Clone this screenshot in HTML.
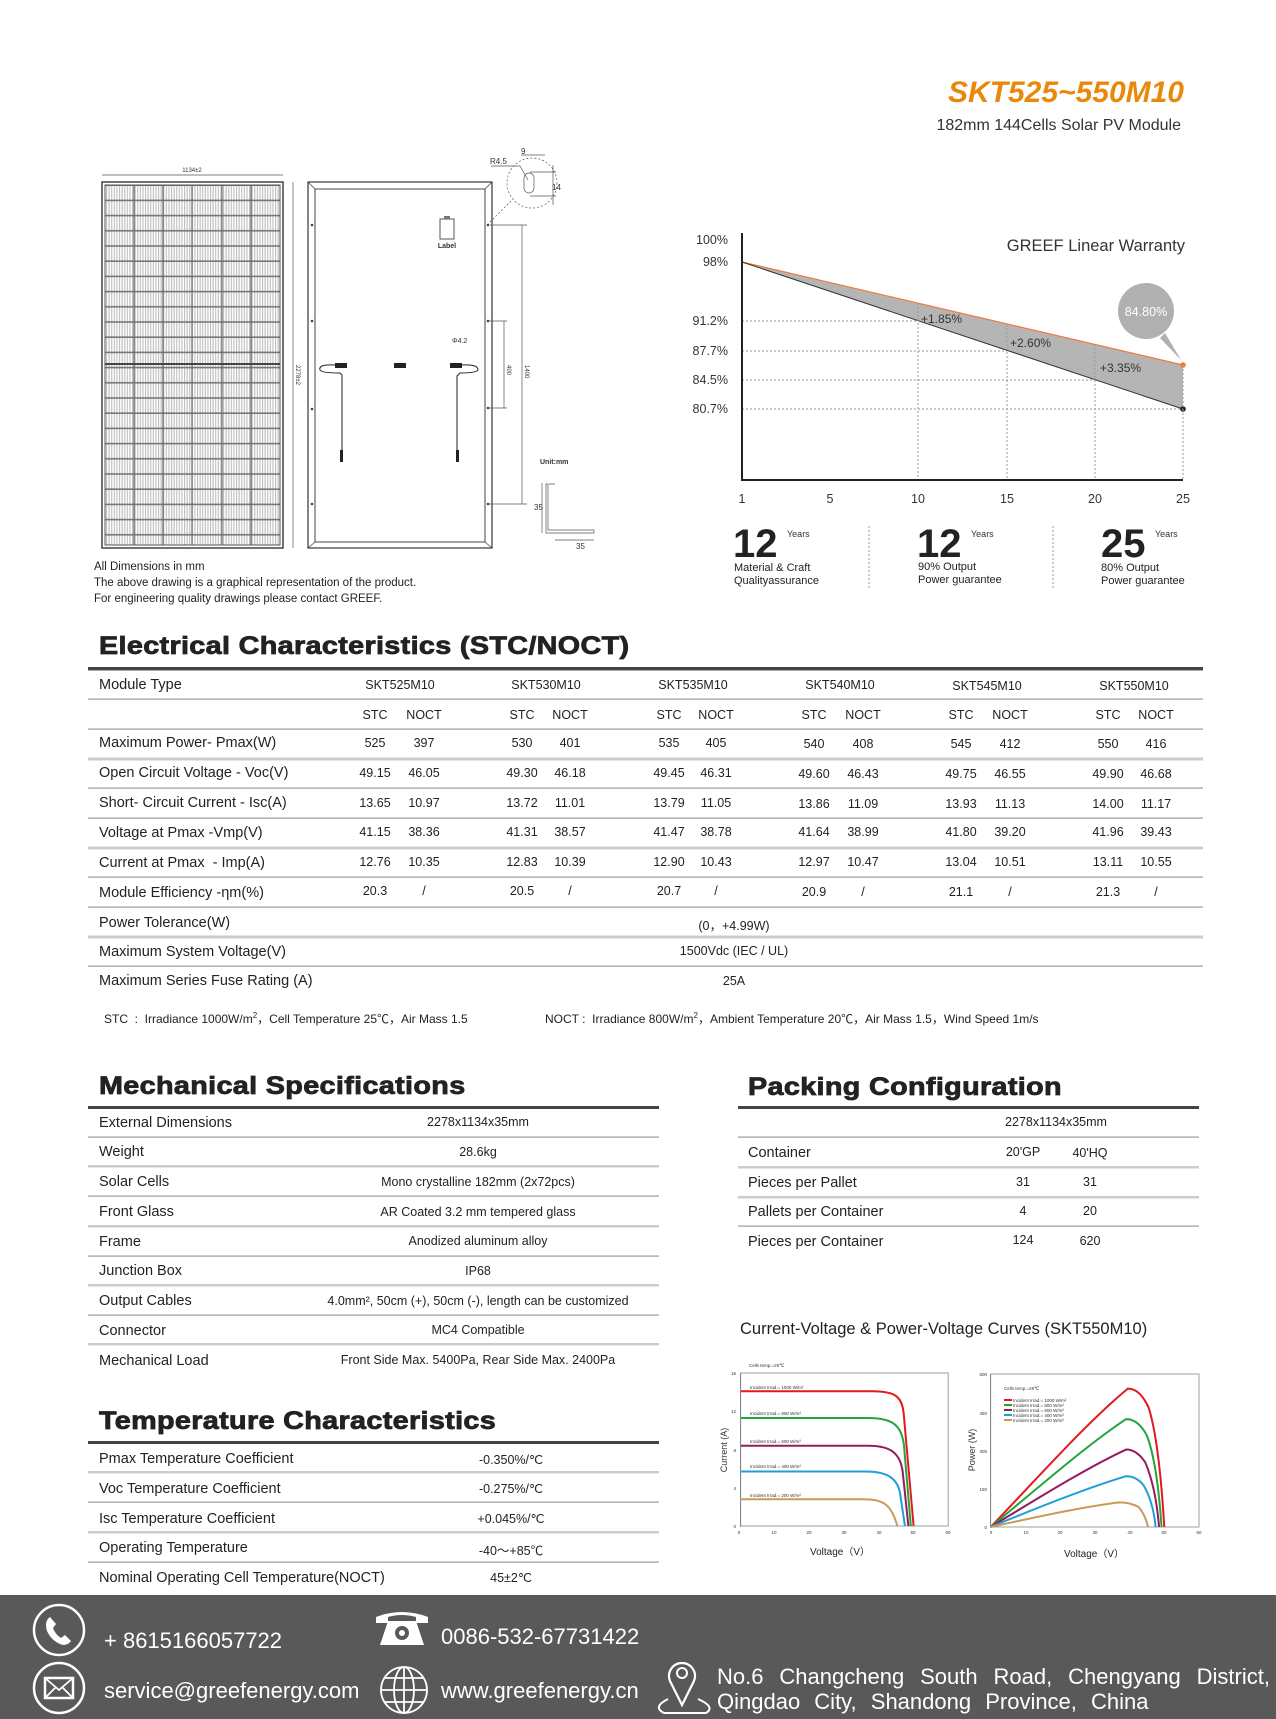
<!DOCTYPE html>
<html><head><meta charset="utf-8"><style>
*{margin:0;padding:0;box-sizing:border-box}
body{width:1276px;height:1719px;background:#fff;position:relative;overflow:hidden;font-family:"Liberation Sans",Arial,sans-serif;color:#222}
.a{position:absolute;white-space:nowrap}
.h{font-weight:bold;font-size:25px;color:#222;-webkit-text-stroke:0.8px #222;letter-spacing:0.3px;transform:scaleX(1.15);transform-origin:left center}
.l{font-size:14.5px;color:#222}
.v{font-size:12.5px;color:#222;transform:translateX(-50%)}
.f{color:#fff;font-size:22px}
</style></head><body>

<div class="a" style="right:92px;top:76px;font-size:30px;font-weight:bold;font-style:italic;color:#e8890c">SKT525~550M10</div>
<div class="a" style="right:95px;top:117px;font-size:16px;color:#333">182mm 144Cells Solar PV Module</div>

<svg class="a" style="left:0;top:0" width="1276" height="620">
<defs>
<pattern id="cell" x="106" y="186" width="2.6" height="15.2" patternUnits="userSpaceOnUse">
<rect width="2.6" height="15.2" fill="#fff"/><rect x="0" width="1.1" height="15.2" fill="#bdbdbd"/><rect y="13.6" width="2.6" height="1.6" fill="#777"/>
</pattern>
</defs>
<line x1="102" y1="175" x2="283" y2="175" stroke="#555" stroke-width="0.7"/>
<text x="192" y="172" font-size="6" text-anchor="middle" fill="#333">1134±2</text>
<rect x="102" y="182" width="181" height="366" fill="none" stroke="#444" stroke-width="1.5"/>
<rect x="105" y="185" width="175" height="360" fill="url(#cell)" stroke="#555"/>
<g stroke="#666" stroke-width="1.2">
<line x1="134" y1="185" x2="134" y2="545"/><line x1="163" y1="185" x2="163" y2="545"/><line x1="192" y1="185" x2="192" y2="545"/><line x1="222" y1="185" x2="222" y2="545"/><line x1="251" y1="185" x2="251" y2="545"/>
</g>
<line x1="105" y1="364" x2="280" y2="364" stroke="#444" stroke-width="2"/>
<line x1="293" y1="182" x2="293" y2="548" stroke="#555" stroke-width="0.7"/>
<text x="296" y="365" font-size="6" fill="#333" transform="rotate(90 296 365)">2278±2</text>
<rect x="308" y="182" width="184" height="366" fill="none" stroke="#444" stroke-width="1.3"/>
<rect x="315" y="189" width="170" height="353" fill="none" stroke="#444" stroke-width="1"/>
<g stroke="#444" stroke-width="0.8"><line x1="308" y1="182" x2="315" y2="189"/><line x1="492" y1="182" x2="485" y2="189"/><line x1="308" y1="548" x2="315" y2="542"/><line x1="492" y1="548" x2="485" y2="542"/></g>
<rect x="440" y="219" width="14" height="20" fill="none" stroke="#555"/><rect x="444" y="216" width="6" height="3" fill="#777"/>
<text x="447" y="248" font-size="7" font-weight="bold" text-anchor="middle" fill="#333">Label</text>
<g fill="#444"><circle cx="312" cy="225" r="1.3"/><circle cx="312" cy="321" r="1.3"/><circle cx="312" cy="409" r="1.3"/><circle cx="312" cy="504" r="1.3"/><circle cx="488" cy="225" r="1.3"/><circle cx="488" cy="321" r="1.3"/><circle cx="488" cy="408" r="1.3"/><circle cx="488" cy="504" r="1.3"/></g>
<rect x="335" y="363" width="12" height="5" fill="#222"/><rect x="394" y="363" width="12" height="5" fill="#222"/><rect x="450" y="363" width="12" height="5" fill="#222"/>
<path d="M335 365 Q318 364 320 370 Q322 373 340 373 L342 375 L342 460" fill="none" stroke="#222" stroke-width="1"/>
<path d="M462 365 Q478 364 478 370 Q476 373 460 373 L457 376 L457 460" fill="none" stroke="#222" stroke-width="1"/>
<rect x="340" y="450" width="3" height="12" fill="#222"/><rect x="456" y="450" width="3" height="12" fill="#222"/>
<g stroke="#555" stroke-width="0.7" fill="none">
<line x1="488" y1="321" x2="507" y2="321"/><line x1="488" y1="408" x2="507" y2="408"/><line x1="504" y1="321" x2="504" y2="408"/>
<line x1="490" y1="225" x2="527" y2="225"/><line x1="488" y1="504" x2="527" y2="504"/><line x1="522" y1="225" x2="522" y2="504"/>
<circle cx="532" cy="183" r="25" stroke-dasharray="2 2"/><line x1="487" y1="225" x2="512" y2="200" stroke-dasharray="2 2"/>
<rect x="524" y="173" width="10" height="20" rx="5"/><line x1="491" y1="166" x2="520" y2="166"/><line x1="520" y1="166" x2="528" y2="180"/>
<line x1="521" y1="155" x2="545" y2="155"/><line x1="530" y1="172" x2="556" y2="172"/><line x1="530" y1="196" x2="556" y2="196"/>
<line x1="553" y1="165" x2="553" y2="205"/>
<path d="M548 484 L548 530 L594 530 L594 533 L546 533 L546 484 Z M549 484 L555 484"/>
<line x1="542" y1="483" x2="542" y2="533"/><line x1="555" y1="540" x2="594" y2="540"/>
</g>
<text x="521" y="154" font-size="8" fill="#333">9</text>
<text x="490" y="164" font-size="8" fill="#333">R4.5</text>
<text x="552" y="190" font-size="8" fill="#333">14</text>
<text x="452" y="343" font-size="7" fill="#333">Φ4.2</text>
<text x="507" y="365" font-size="6" fill="#333" transform="rotate(90 507 365)">400</text>
<text x="525" y="365" font-size="6" fill="#333" transform="rotate(90 525 365)">1400</text>
<text x="540" y="464" font-size="7" font-weight="bold" fill="#333">Unit:mm</text>
<text x="534" y="510" font-size="8" fill="#333">35</text>
<text x="576" y="549" font-size="8" fill="#333">35</text>

<polygon points="742,262 1183,365 1183,409" fill="#b5b5b5"/>
<line x1="742" y1="262" x2="1183" y2="365" stroke="#f07a3a" stroke-width="1.2"/>
<line x1="742" y1="262" x2="1183" y2="409" stroke="#333" stroke-width="1"/>
<circle cx="1183" cy="365" r="2.8" fill="#f07a3a"/><circle cx="1183" cy="409" r="2.8" fill="#222"/>
<g stroke="#999" stroke-width="1" stroke-dasharray="2 2">
<line x1="742" y1="321" x2="918" y2="321"/><line x1="742" y1="351" x2="1007" y2="351"/><line x1="742" y1="380" x2="1095" y2="380"/><line x1="742" y1="409" x2="1183" y2="409"/>
<line x1="918" y1="303" x2="918" y2="480"/><line x1="1007" y1="324" x2="1007" y2="480"/><line x1="1095" y1="344" x2="1095" y2="480"/><line x1="1183" y1="365" x2="1183" y2="480"/>
</g>
<polyline points="742,233 742,480 1183,480" fill="none" stroke="#222" stroke-width="2"/>
<g font-size="12.5" fill="#333" text-anchor="end">
<text x="728" y="244">100%</text><text x="728" y="266">98%</text><text x="728" y="325">91.2%</text><text x="728" y="355">87.7%</text><text x="728" y="384">84.5%</text><text x="728" y="413">80.7%</text>
</g>
<g font-size="12.5" fill="#333" text-anchor="middle">
<text x="742" y="503">1</text><text x="830" y="503">5</text><text x="918" y="503">10</text><text x="1007" y="503">15</text><text x="1095" y="503">20</text><text x="1183" y="503">25</text>
</g>
<g font-size="12" fill="#333"><text x="921" y="323">+1.85%</text><text x="1010" y="347">+2.60%</text><text x="1100" y="372">+3.35%</text></g>
<text x="1185" y="251" font-size="16.5" fill="#333" text-anchor="end">GREEF Linear Warranty</text>
<path d="M1165 333 L1181 360 L1160 338 Z" fill="#b0b0b0"/>
<ellipse cx="1146" cy="311" rx="28" ry="28" fill="#b0b0b0"/>
<text x="1146" y="316" font-size="12.5" fill="#fff" text-anchor="middle">84.80%</text>
<g stroke="#999" stroke-dasharray="2 2"><line x1="869" y1="526" x2="869" y2="588"/><line x1="1053" y1="526" x2="1053" y2="588"/></g>
<g fill="#222" font-weight="bold" font-size="40" style="-webkit-text-stroke:1.2px #222"><text x="733" y="557">12</text><text x="917" y="557">12</text><text x="1101" y="557">25</text></g>
<g fill="#333" font-size="9"><text x="787" y="537">Years</text><text x="971" y="537">Years</text><text x="1155" y="537">Years</text></g>
<g fill="#222" font-size="11"><text x="734" y="571">Material &amp; Craft</text><text x="734" y="584">Qualityassurance</text><text x="918" y="570">90% Output</text><text x="918" y="583">Power guarantee</text><text x="1101" y="571">80% Output</text><text x="1101" y="584">Power guarantee</text></g>
<g fill="#222" font-size="11.5"><text x="94" y="570">All Dimensions in mm</text><text x="94" y="586">The above drawing is a graphical representation of the product.</text><text x="94" y="602">For engineering quality drawings please contact GREEF.</text></g>
</svg>

<div class="a h" style="left:99px;top:632px">Electrical Characteristics (STC/NOCT)</div>
<svg class="a" style="left:0;top:660px" width="1276" height="320">
<rect x="88" y="7" width="1115" height="3" fill="#444"/><rect x="88" y="10" width="1115" height="1" fill="#aaa"/>
<g fill="#999"><rect x="88" y="38.5" width="1115" height="1.2"/><rect x="88" y="68.5" width="1115" height="1.2"/><rect x="88" y="127.5" width="1115" height="1.2"/><rect x="88" y="157.5" width="1115" height="1.2"/><rect x="88" y="216.5" width="1115" height="1.2"/><rect x="88" y="246.5" width="1115" height="1.2"/><rect x="88" y="305.5" width="1115" height="1.2"/></g>
<g fill="#ccc"><rect x="88" y="97.5" width="1115" height="3"/><rect x="88" y="186.5" width="1115" height="3"/><rect x="88" y="275.5" width="1115" height="3"/></g>
</svg>
<div class="a l" style="left:99px;top:677px">Module Type</div>
<div class="a l" style="left:99px;top:735px">Maximum Power- Pmax(W)</div>
<div class="a l" style="left:99px;top:765px">Open Circuit Voltage - Voc(V)</div>
<div class="a l" style="left:99px;top:795px">Short- Circuit Current - Isc(A)</div>
<div class="a l" style="left:99px;top:825px">Voltage at Pmax -Vmp(V)</div>
<div class="a l" style="left:99px;top:855px">Current at Pmax &nbsp;- Imp(A)</div>
<div class="a l" style="left:99px;top:885px">Module Efficiency -ηm(%)</div>
<div class="a l" style="left:99px;top:915px">Power Tolerance(W)</div>
<div class="a l" style="left:99px;top:944px">Maximum System Voltage(V)</div>
<div class="a l" style="left:99px;top:973px">Maximum Series Fuse Rating (A)</div>

<div class="a v" style="left:400px;top:678px">SKT525M10</div><div class="a v" style="left:546px;top:678px">SKT530M10</div><div class="a v" style="left:693px;top:678px">SKT535M10</div><div class="a v" style="left:840px;top:678px">SKT540M10</div><div class="a v" style="left:987px;top:679px">SKT545M10</div><div class="a v" style="left:1134px;top:679px">SKT550M10</div>

<div class="a v" style="left:375px;top:708px">STC</div><div class="a v" style="left:424px;top:708px">NOCT</div>
<div class="a v" style="left:522px;top:708px">STC</div><div class="a v" style="left:570px;top:708px">NOCT</div>
<div class="a v" style="left:669px;top:708px">STC</div><div class="a v" style="left:716px;top:708px">NOCT</div>
<div class="a v" style="left:814px;top:708px">STC</div><div class="a v" style="left:863px;top:708px">NOCT</div>
<div class="a v" style="left:961px;top:708px">STC</div><div class="a v" style="left:1010px;top:708px">NOCT</div>
<div class="a v" style="left:1108px;top:708px">STC</div><div class="a v" style="left:1156px;top:708px">NOCT</div>

<div class="a v" style="left:375px;top:736px">525</div><div class="a v" style="left:424px;top:736px">397</div>
<div class="a v" style="left:522px;top:736px">530</div><div class="a v" style="left:570px;top:736px">401</div>
<div class="a v" style="left:669px;top:736px">535</div><div class="a v" style="left:716px;top:736px">405</div>
<div class="a v" style="left:814px;top:737px">540</div><div class="a v" style="left:863px;top:737px">408</div>
<div class="a v" style="left:961px;top:737px">545</div><div class="a v" style="left:1010px;top:737px">412</div>
<div class="a v" style="left:1108px;top:737px">550</div><div class="a v" style="left:1156px;top:737px">416</div>

<div class="a v" style="left:375px;top:766px">49.15</div><div class="a v" style="left:424px;top:766px">46.05</div>
<div class="a v" style="left:522px;top:766px">49.30</div><div class="a v" style="left:570px;top:766px">46.18</div>
<div class="a v" style="left:669px;top:766px">49.45</div><div class="a v" style="left:716px;top:766px">46.31</div>
<div class="a v" style="left:814px;top:767px">49.60</div><div class="a v" style="left:863px;top:767px">46.43</div>
<div class="a v" style="left:961px;top:767px">49.75</div><div class="a v" style="left:1010px;top:767px">46.55</div>
<div class="a v" style="left:1108px;top:767px">49.90</div><div class="a v" style="left:1156px;top:767px">46.68</div>

<div class="a v" style="left:375px;top:796px">13.65</div><div class="a v" style="left:424px;top:796px">10.97</div>
<div class="a v" style="left:522px;top:796px">13.72</div><div class="a v" style="left:570px;top:796px">11.01</div>
<div class="a v" style="left:669px;top:796px">13.79</div><div class="a v" style="left:716px;top:796px">11.05</div>
<div class="a v" style="left:814px;top:797px">13.86</div><div class="a v" style="left:863px;top:797px">11.09</div>
<div class="a v" style="left:961px;top:797px">13.93</div><div class="a v" style="left:1010px;top:797px">11.13</div>
<div class="a v" style="left:1108px;top:797px">14.00</div><div class="a v" style="left:1156px;top:797px">11.17</div>

<div class="a v" style="left:375px;top:825px">41.15</div><div class="a v" style="left:424px;top:825px">38.36</div>
<div class="a v" style="left:522px;top:825px">41.31</div><div class="a v" style="left:570px;top:825px">38.57</div>
<div class="a v" style="left:669px;top:825px">41.47</div><div class="a v" style="left:716px;top:825px">38.78</div>
<div class="a v" style="left:814px;top:825px">41.64</div><div class="a v" style="left:863px;top:825px">38.99</div>
<div class="a v" style="left:961px;top:825px">41.80</div><div class="a v" style="left:1010px;top:825px">39.20</div>
<div class="a v" style="left:1108px;top:825px">41.96</div><div class="a v" style="left:1156px;top:825px">39.43</div>

<div class="a v" style="left:375px;top:855px">12.76</div><div class="a v" style="left:424px;top:855px">10.35</div>
<div class="a v" style="left:522px;top:855px">12.83</div><div class="a v" style="left:570px;top:855px">10.39</div>
<div class="a v" style="left:669px;top:855px">12.90</div><div class="a v" style="left:716px;top:855px">10.43</div>
<div class="a v" style="left:814px;top:855px">12.97</div><div class="a v" style="left:863px;top:855px">10.47</div>
<div class="a v" style="left:961px;top:855px">13.04</div><div class="a v" style="left:1010px;top:855px">10.51</div>
<div class="a v" style="left:1108px;top:855px">13.11</div><div class="a v" style="left:1156px;top:855px">10.55</div>

<div class="a v" style="left:375px;top:884px">20.3</div><div class="a v" style="left:424px;top:884px">/</div>
<div class="a v" style="left:522px;top:884px">20.5</div><div class="a v" style="left:570px;top:884px">/</div>
<div class="a v" style="left:669px;top:884px">20.7</div><div class="a v" style="left:716px;top:884px">/</div>
<div class="a v" style="left:814px;top:885px">20.9</div><div class="a v" style="left:863px;top:885px">/</div>
<div class="a v" style="left:961px;top:885px">21.1</div><div class="a v" style="left:1010px;top:885px">/</div>
<div class="a v" style="left:1108px;top:885px">21.3</div><div class="a v" style="left:1156px;top:885px">/</div>

<div class="a v" style="left:734px;top:915px">(0，+4.99W)</div>
<div class="a v" style="left:734px;top:944px">1500Vdc (IEC / UL)</div>
<div class="a v" style="left:734px;top:974px">25A</div>

<div class="a" style="left:104px;top:1010px;font-size:12px;color:#222">STC &nbsp;: &nbsp;Irradiance 1000W/m<sup style="font-size:8px">2</sup>，Cell Temperature 25℃，Air Mass 1.5</div>
<div class="a" style="left:545px;top:1010px;font-size:12px;color:#222">NOCT : &nbsp;Irradiance 800W/m<sup style="font-size:8px">2</sup>，Ambient Temperature 20℃，Air Mass 1.5，Wind Speed 1m/s</div>

<div class="a h" style="left:99px;top:1072px">Mechanical Specifications</div>
<div class="a h" style="left:748px;top:1073px">Packing Configuration</div>
<svg class="a" style="left:0;top:1100px" width="1276" height="480">
<rect x="88" y="6" width="571" height="3" fill="#444"/><rect x="738" y="6" width="461" height="3" fill="#444"/>
<g fill="#999">
<rect x="88" y="36.5" width="571" height="1.2"/><rect x="88" y="95.5" width="571" height="1.2"/><rect x="88" y="155.5" width="571" height="1.2"/><rect x="88" y="214.5" width="571" height="1.2"/>
<rect x="738" y="36.5" width="461" height="1.2"/><rect x="738" y="125.5" width="461" height="1.2"/>
<rect x="88" y="341" width="571" height="3" fill="#444"/>
<rect x="88" y="401.5" width="571" height="1.2"/><rect x="88" y="461.5" width="571" height="1.2"/>
</g>
<g fill="#ccc">
<rect x="88" y="65" width="571" height="2.5"/><rect x="88" y="125" width="571" height="2.5"/><rect x="88" y="184" width="571" height="2.5"/><rect x="88" y="243" width="571" height="2.5"/>
<rect x="738" y="66" width="461" height="2.5"/><rect x="738" y="96" width="461" height="2.5"/>
<rect x="88" y="371" width="571" height="2.5"/><rect x="88" y="431" width="571" height="2.5"/>
</g>
</svg>
<div class="a l" style="left:99px;top:1115px">External Dimensions</div>
<div class="a l" style="left:99px;top:1144px">Weight</div>
<div class="a l" style="left:99px;top:1174px">Solar Cells</div>
<div class="a l" style="left:99px;top:1204px">Front Glass</div>
<div class="a l" style="left:99px;top:1234px">Frame</div>
<div class="a l" style="left:99px;top:1263px">Junction Box</div>
<div class="a l" style="left:99px;top:1293px">Output Cables</div>
<div class="a l" style="left:99px;top:1323px">Connector</div>
<div class="a l" style="left:99px;top:1353px">Mechanical Load</div>
<div class="a v" style="left:478px;top:1115px">2278x1134x35mm</div>
<div class="a v" style="left:478px;top:1145px">28.6kg</div>
<div class="a v" style="left:478px;top:1175px">Mono crystalline 182mm (2x72pcs)</div>
<div class="a v" style="left:478px;top:1205px">AR Coated 3.2 mm tempered glass</div>
<div class="a v" style="left:478px;top:1234px">Anodized aluminum alloy</div>
<div class="a v" style="left:478px;top:1264px">IP68</div>
<div class="a v" style="left:478px;top:1294px">4.0mm², 50cm (+), 50cm (-), length can be customized</div>
<div class="a v" style="left:478px;top:1323px">MC4 Compatible</div>
<div class="a v" style="left:478px;top:1353px">Front Side Max. 5400Pa, Rear Side Max. 2400Pa</div>

<div class="a v" style="left:1056px;top:1115px">2278x1134x35mm</div>
<div class="a l" style="left:748px;top:1145px">Container</div>
<div class="a l" style="left:748px;top:1175px">Pieces per Pallet</div>
<div class="a l" style="left:748px;top:1204px">Pallets per Container</div>
<div class="a l" style="left:748px;top:1234px">Pieces per Container</div>
<div class="a v" style="left:1023px;top:1145px">20'GP</div><div class="a v" style="left:1090px;top:1146px">40'HQ</div>
<div class="a v" style="left:1023px;top:1175px">31</div><div class="a v" style="left:1090px;top:1175px">31</div>
<div class="a v" style="left:1023px;top:1204px">4</div><div class="a v" style="left:1090px;top:1204px">20</div>
<div class="a v" style="left:1023px;top:1233px">124</div><div class="a v" style="left:1090px;top:1234px">620</div>

<div class="a h" style="left:99px;top:1407px">Temperature Characteristics</div>
<div class="a l" style="left:99px;top:1451px">Pmax Temperature Coefficient</div>
<div class="a l" style="left:99px;top:1481px">Voc Temperature Coefficient</div>
<div class="a l" style="left:99px;top:1511px">Isc Temperature Coefficient</div>
<div class="a l" style="left:99px;top:1540px">Operating Temperature</div>
<div class="a l" style="left:99px;top:1570px">Nominal Operating Cell Temperature(NOCT)</div>
<div class="a v" style="left:511px;top:1452px">-0.350%/℃</div>
<div class="a v" style="left:511px;top:1481px">-0.275%/℃</div>
<div class="a v" style="left:511px;top:1511px">+0.045%/℃</div>
<div class="a v" style="left:511px;top:1540px">-40～+85℃</div>
<div class="a v" style="left:511px;top:1570px">45±2℃</div>

<div class="a" style="left:740px;top:1320px;font-size:16.5px;color:#222">Current-Voltage &amp; Power-Voltage Curves (SKT550M10)</div>

<svg class="a" style="left:0;top:0" width="1276" height="1580">
<g fill="none" stroke="#888" stroke-width="0.8"><rect x="740.7" y="1373" width="207.5" height="153"/><rect x="990.7" y="1374" width="208.3" height="153"/></g>
<g stroke="#555" stroke-width="0.6">
<line x1="740.7" y1="1373" x2="740.7" y2="1527"/><line x1="990.7" y1="1374" x2="990.7" y2="1528"/>
</g>
<g transform="translate(740.7,1526) scale(3.458,-9.56)" fill="none" stroke-width="2">
<path vector-effect="non-scaling-stroke" stroke="#e3191f" d="M0 14.1 L38 14.1 C45 14.1 46.8 13.5 47.2 11.5 L50 0"/>
<path vector-effect="non-scaling-stroke" stroke="#22a638" d="M0 11.3 L37 11.3 C44 11.3 46.5 10.5 47.2 8.5 L49.2 0"/>
<path vector-effect="non-scaling-stroke" stroke="#961a5f" d="M0 8.4 L37 8.4 C43 8.4 46 7.7 46.8 5.8 L48.5 0"/>
<path vector-effect="non-scaling-stroke" stroke="#1e9fdc" d="M0 5.7 L36 5.7 C42 5.7 45 5.1 46 3.6 L47.5 0"/>
<path vector-effect="non-scaling-stroke" stroke="#c99a5a" d="M0 2.8 L35 2.8 C41 2.8 43.5 2.4 45.3 0"/>
</g>
<g transform="translate(990.7,1527) scale(3.472,-0.2539)" fill="none" stroke-width="2">
<path vector-effect="non-scaling-stroke" stroke="#e3191f" d="M0 0 C15 215 28 415 39.5 545 Q43 545 45.5 470 Q48.5 340 50 0"/>
<path vector-effect="non-scaling-stroke" stroke="#22a638" d="M0 0 C15 170 28 325 39 425 Q42.5 425 45 360 Q48 250 49.2 0"/>
<path vector-effect="non-scaling-stroke" stroke="#961a5f" d="M0 0 C15 125 28 235 39 305 Q42 305 44.5 255 Q47.5 160 48.5 0"/>
<path vector-effect="non-scaling-stroke" stroke="#1e9fdc" d="M0 0 C15 85 28 155 39 200 Q42 200 44 165 Q46.8 100 47.5 0"/>
<path vector-effect="non-scaling-stroke" stroke="#c99a5a" d="M0 0 C15 45 27 80 37 97 Q40 97 42.5 80 Q44.5 50 45.3 0"/>
</g>
<g font-size="4.5" fill="#333">
<text x="749" y="1367">Cells temp.=25℃</text>
<text x="750" y="1389">Incident Irrad.= 1000 W/m²</text><text x="750" y="1415">Incident Irrad.= 800 W/m²</text><text x="750" y="1443">Incident Irrad.= 600 W/m²</text><text x="750" y="1468">Incident Irrad.= 400 W/m²</text><text x="750" y="1497">Incident Irrad.= 200 W/m²</text>
<text x="1004" y="1390">Cells temp.=25℃</text>
<text x="1013" y="1402">Incident Irrad.= 1000 W/m²</text><text x="1013" y="1407">Incident Irrad.= 800 W/m²</text><text x="1013" y="1412">Incident Irrad.= 600 W/m²</text><text x="1013" y="1417">Incident Irrad.= 400 W/m²</text><text x="1013" y="1422">Incident Irrad.= 200 W/m²</text>
<text x="739" y="1534" text-anchor="middle">0</text><text x="774" y="1534" text-anchor="middle">10</text><text x="809" y="1534" text-anchor="middle">20</text><text x="844" y="1534" text-anchor="middle">30</text><text x="879" y="1534" text-anchor="middle">40</text><text x="913" y="1534" text-anchor="middle">50</text><text x="948" y="1534" text-anchor="middle">60</text>
<text x="991" y="1534" text-anchor="middle">0</text><text x="1026" y="1534" text-anchor="middle">10</text><text x="1060" y="1534" text-anchor="middle">20</text><text x="1095" y="1534" text-anchor="middle">30</text><text x="1130" y="1534" text-anchor="middle">40</text><text x="1164" y="1534" text-anchor="middle">50</text><text x="1199" y="1534" text-anchor="middle">60</text>
<text x="736" y="1528" text-anchor="end">0</text><text x="736" y="1490" text-anchor="end">4</text><text x="736" y="1452" text-anchor="end">8</text><text x="736" y="1413" text-anchor="end">12</text><text x="736" y="1375" text-anchor="end">16</text>
<text x="987" y="1529" text-anchor="end">0</text><text x="987" y="1491" text-anchor="end">150</text><text x="987" y="1453" text-anchor="end">300</text><text x="987" y="1415" text-anchor="end">450</text><text x="987" y="1376" text-anchor="end">600</text>
</g>
<g fill="#e3191f"><rect x="1004" y="1399" width="8" height="2"/></g><g fill="#22a638"><rect x="1004" y="1404" width="8" height="2"/></g><g fill="#961a5f"><rect x="1004" y="1409" width="8" height="2"/></g><g fill="#1e9fdc"><rect x="1004" y="1414" width="8" height="2"/></g><g fill="#c99a5a"><rect x="1004" y="1419" width="8" height="2"/></g>
<text x="727" y="1450" font-size="9" fill="#333" transform="rotate(-90 727 1450)" text-anchor="middle">Current (A)</text>
<text x="975" y="1450" font-size="9" fill="#333" transform="rotate(-90 975 1450)" text-anchor="middle">Power (W)</text>
<text x="840" y="1555" font-size="10" fill="#222" text-anchor="middle">Voltage（V）</text>
<text x="1094" y="1557" font-size="10" fill="#222" text-anchor="middle">Voltage（V）</text>
</svg>

<div class="a" style="left:0;top:1595px;width:1276px;height:124px;background:#595959"></div>
<svg class="a" style="left:0;top:1595px" width="1276" height="124">
<g fill="none" stroke="#fff" stroke-width="2.5">
<circle cx="59" cy="35" r="25"/><circle cx="59" cy="93" r="25"/>
<rect x="45" y="83" width="28" height="20"/><path d="M45 83 L59 95 L73 83 M45 103 L56 92 M73 103 L62 92" stroke-width="1.8"/>
<circle cx="404" cy="95" r="23" stroke-width="1.8"/><ellipse cx="404" cy="95" rx="10" ry="23" stroke-width="1.8"/><line x1="404" y1="72" x2="404" y2="118" stroke-width="1.8"/><line x1="381" y1="95" x2="427" y2="95" stroke-width="1.8"/><line x1="385" y1="83" x2="423" y2="83" stroke-width="1.8"/><line x1="385" y1="107" x2="423" y2="107" stroke-width="1.8"/>
<path d="M682 110 L670 86 A13 13 0 1 1 694 86 Z" stroke-width="2.2"/><circle cx="682" cy="78" r="5" stroke-width="2"/><path d="M668 104 Q652 112 664 118 L706 118 Q716 112 698 104" stroke-width="2"/>
</g>
<path d="M50 22 Q44 26 47 36 Q52 47 63 50 Q68 50 71 46 L65 40 L61 43 Q55 39 53 33 L56 29 Z" fill="#fff"/>
<path d="M376 22 Q402 12 428 22 L428 28 L416 28 L416 22 Q402 18 388 22 L388 28 L376 28 Z" fill="#fff"/>
<path d="M388 26 L416 26 L424 50 L380 50 Z" fill="#fff"/><circle cx="402" cy="38" r="7" fill="#595959"/><circle cx="402" cy="38" r="3" fill="#fff"/>
</svg>
<div class="a f" style="left:104px;top:1628px">+ 8615166057722</div>
<div class="a f" style="left:441px;top:1624px">0086-532-67731422</div>
<div class="a f" style="left:104px;top:1678px">service@greefenergy.com</div>
<div class="a f" style="left:441px;top:1678px">www.greefenergy.cn</div>
<div class="a f" style="left:717px;top:1664px;width:553px;display:flex;justify-content:space-between"><span>No.6</span><span>Changcheng</span><span>South</span><span>Road,</span><span>Chengyang</span><span>District,</span></div>
<div class="a f" style="left:717px;top:1689px;word-spacing:8px">Qingdao City, Shandong Province, China</div>
</body></html>
